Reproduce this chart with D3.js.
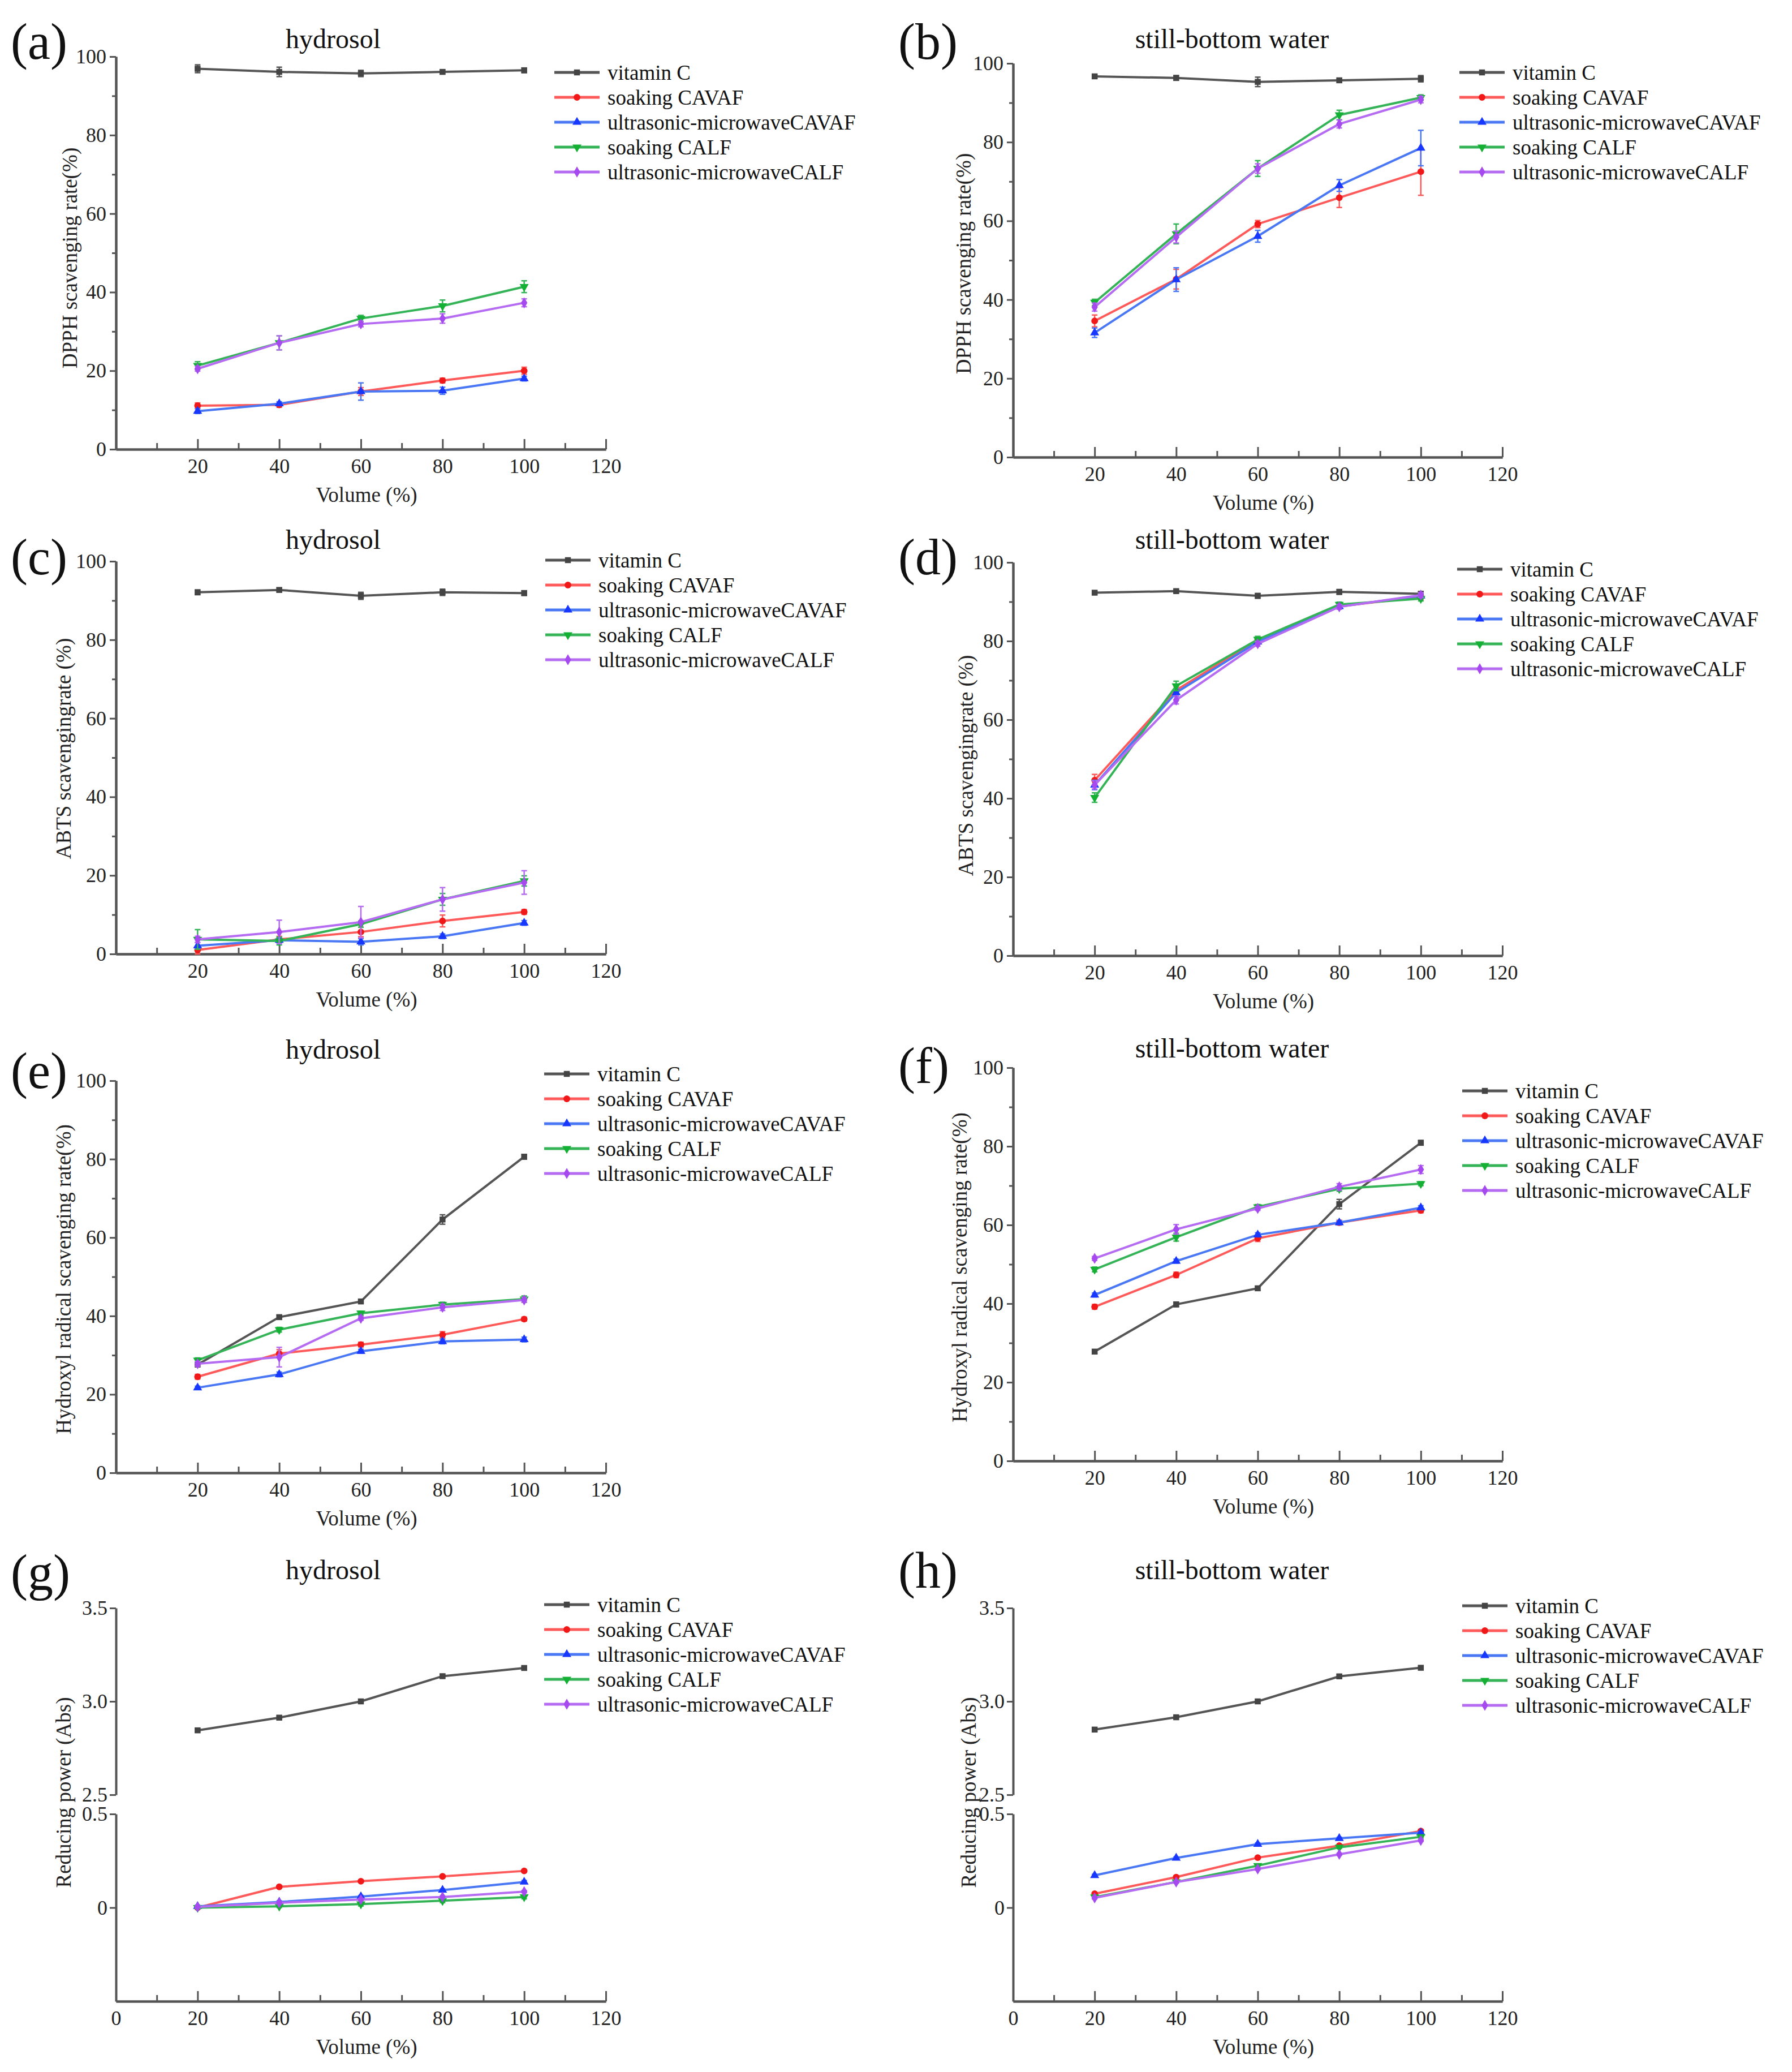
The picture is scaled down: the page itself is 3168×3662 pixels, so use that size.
<!DOCTYPE html>
<html>
<head>
<meta charset="utf-8">
<script src="https://cdnjs.cloudflare.com/ajax/libs/d3/7.8.5/d3.min.js"></script>
<style>
  body { margin: 0; background: #fff; }
  svg { display: block; }
  text { font-family: "Liberation Serif", "Times New Roman", serif; }
</style>
</head>
<body>
<svg id="fig"></svg>
<script>
// ---- data ----
const volumes = [20, 40, 60, 80, 100];
const seriesNames = ['vitamin C', 'soaking CAVAF', 'ultrasonic-microwaveCAVAF', 'soaking CALF', 'ultrasonic-microwaveCALF'];
const xTicks = [20, 40, 60, 80, 100, 120];
const xTicksWithZero = [0, 20, 40, 60, 80, 100, 120];
const xMinor = [10, 30, 50, 70, 90, 110];
const pctTicks = [0, 20, 40, 60, 80, 100];
const pctMinor = [10, 30, 50, 70, 90];
const absUpperTicks = [2.5, 3.0, 3.5];
const absLowerTicks = [0, 0.5];

// rows: vitamin C, soaking CAVAF, u-m CAVAF, soaking CALF, u-m CALF
const dpphHydrosol = [
  [96.9, 96.1, 95.7, 96.1, 96.5],
  [11.1, 11.3, 14.7, 17.5, 20.0],
  [9.7, 11.6, 14.7, 14.9, 18.0],
  [21.3, 27.1, 33.3, 36.5, 41.4],
  [20.5, 27.1, 31.9, 33.3, 37.3]
];
const dpphHydrosolErr = [
  [1.0, 1.2, 0.8, 0.5, 0.6],
  [0.7, 0.6, 1.0, 0.6, 0.9],
  [0.6, 0.5, 2.2, 0.9, 0.6],
  [1.0, 1.8, 0.8, 1.5, 1.5],
  [0.6, 1.8, 0.7, 1.2, 1.0]
];
const dpphStill = [
  [96.7, 96.3, 95.3, 95.7, 96.1],
  [34.6, 45.2, 59.2, 65.9, 72.5],
  [31.6, 45.1, 56.1, 69.0, 78.5],
  [39.3, 56.7, 73.3, 86.9, 91.3],
  [38.1, 55.9, 73.3, 84.6, 90.8]
];
const dpphStillErr = [
  [0.5, 0.6, 1.2, 0.5, 0.8],
  [1.5, 2.5, 0.9, 2.5, 6.0],
  [1.2, 3.0, 1.5, 1.5, 4.5],
  [0.8, 2.5, 2.0, 1.2, 0.7],
  [1.0, 1.5, 1.2, 1.0, 0.8]
];
const abtsHydrosol = [
  [92.1, 92.7, 91.2, 92.1, 91.9],
  [1.0, 3.7, 5.6, 8.4, 10.7],
  [2.1, 3.5, 3.1, 4.5, 7.9],
  [3.7, 3.3, 7.6, 13.9, 18.6],
  [3.7, 5.6, 8.1, 13.9, 18.2]
];
const abtsHydrosolErr = [
  [0.6, 0.5, 0.9, 0.8, 0.6],
  [1.0, 0.8, 1.2, 1.5, 0.6],
  [0.8, 0.6, 0.8, 0.6, 0.6],
  [2.5, 1.0, 0.8, 1.5, 1.3],
  [0.8, 3.0, 4.0, 3.0, 3.0]
];
const abtsStill = [
  [92.3, 92.7, 91.5, 92.5, 92.0],
  [44.6, 67.5, 80.3, 88.8, 91.3],
  [43.4, 66.9, 79.8, 88.8, 91.5],
  [40.2, 68.6, 80.4, 89.3, 90.8],
  [43.4, 65.0, 79.3, 88.7, 91.7]
];
const abtsStillErr = [
  [0.4, 0.4, 0.6, 0.6, 0.6],
  [1.5, 1.0, 0.8, 0.6, 0.8],
  [1.2, 1.0, 0.6, 0.6, 0.6],
  [1.2, 1.2, 0.8, 0.6, 0.6],
  [1.0, 1.0, 0.6, 0.6, 0.6]
];
const hydroxylHydrosol = [
  [27.6, 39.7, 43.7, 64.6, 80.6],
  [24.5, 30.4, 32.7, 35.2, 39.2],
  [21.7, 25.1, 31.0, 33.5, 34.0],
  [28.7, 36.5, 40.7, 42.9, 44.3],
  [27.8, 29.5, 39.4, 42.2, 44.1]
];
const hydroxylHydrosolErr = [
  [0.5, 0.5, 0.5, 1.2, 0.6],
  [0.6, 1.0, 0.6, 0.8, 0.5],
  [0.4, 0.6, 0.5, 0.6, 0.6],
  [0.6, 0.6, 0.5, 0.6, 0.8],
  [0.6, 2.5, 0.5, 0.8, 0.6]
];
const hydroxylStill = [
  [27.8, 39.8, 43.9, 65.3, 80.9],
  [39.2, 47.3, 56.6, 60.6, 63.7],
  [42.2, 50.8, 57.5, 60.6, 64.4],
  [48.7, 56.9, 64.6, 69.2, 70.5],
  [51.5, 58.9, 64.2, 69.7, 74.1]
];
const hydroxylStillErr = [
  [0.5, 0.6, 0.5, 1.2, 0.6],
  [0.6, 0.7, 0.8, 0.6, 0.6],
  [0.5, 0.5, 0.5, 0.5, 0.5],
  [0.6, 1.0, 0.6, 0.6, 0.5],
  [0.5, 1.2, 0.5, 0.8, 1.0]
];
const reducingHydrosol = [
  [2.845, 2.913, 3.000, 3.135, 3.179],
  [0.000, 0.111, 0.141, 0.167, 0.196],
  [0.007, 0.030, 0.059, 0.094, 0.137],
  [0.000, 0.007, 0.019, 0.037, 0.057],
  [0.004, 0.026, 0.043, 0.057, 0.085]
];
const reducingHydrosolErr = [
  [0.008, 0.008, 0.008, 0.010, 0.008],
  [0.006, 0.006, 0.006, 0.006, 0.006],
  [0.006, 0.006, 0.006, 0.006, 0.008],
  [0.006, 0.006, 0.010, 0.010, 0.010],
  [0.006, 0.006, 0.006, 0.006, 0.006]
];
const reducingStill = [
  [2.849, 2.915, 3.000, 3.134, 3.180],
  [0.074, 0.163, 0.267, 0.331, 0.409],
  [0.172, 0.265, 0.339, 0.370, 0.400],
  [0.056, 0.137, 0.224, 0.322, 0.378],
  [0.052, 0.137, 0.206, 0.285, 0.359]
];
const reducingStillErr = [
  [0.008, 0.008, 0.008, 0.008, 0.008],
  [0.006, 0.006, 0.006, 0.006, 0.008],
  [0.006, 0.006, 0.006, 0.006, 0.006],
  [0.006, 0.006, 0.008, 0.006, 0.006],
  [0.006, 0.006, 0.006, 0.006, 0.006]
];

// ---- styling ----
const W = 3168, H = 3662;
const lineColors = ['#555555', '#ff5a5a', '#4a78f5', '#34b457', '#b56cf2'];
const markColors = ['#444444', '#f01818', '#1838ff', '#14b034', '#a64af0'];
const symbols = [d3.symbolSquare, d3.symbolCircle, d3.symbolTriangle, d3.symbolTriangle, d3.symbolDiamond];
const symbolRot = [0, 0, 0, 180, 0];
const axisColor = '#555';

const svg = d3.select('#fig')
    .attr('width', W)
    .attr('height', H)
    .attr('viewBox', `0 0 ${W} ${H}`);

svg.append('rect').attr('width', W).attr('height', H).attr('fill', '#fff');

const L = {x0: 205, x1: 1071, tagX: 19, titleX: 589};
const R = {x0: 1791, x1: 2656, tagX: 1588, titleX: 2178};

const panels = [
  {col: L, tag: '(a)', title: 'hydrosol', ylab: 'DPPH scavenging rate(%)', vals: dpphHydrosol, errs: dpphHydrosolErr,
   yTop: 100, yBot: 794, tagY: 77, titleY: 70, labX: 123, labY: 456, legX: 980, legY: 128},
  {col: R, tag: '(b)', title: 'still-bottom water', ylab: 'DPPH scavenging rate(%)', vals: dpphStill, errs: dpphStillErr,
   yTop: 112, yBot: 808, tagY: 77, titleY: 70, labX: 1703, labY: 466, legX: 2580, legY: 128},
  {col: L, tag: '(c)', title: 'hydrosol', ylab: 'ABTS scavengingrate (%)', vals: abtsHydrosol, errs: abtsHydrosolErr,
   yTop: 992, yBot: 1686, tagY: 988, titleY: 955, labX: 112, labY: 1323, legX: 964, legY: 990},
  {col: R, tag: '(d)', title: 'still-bottom water', ylab: 'ABTS scavengingrate (%)', vals: abtsStill, errs: abtsStillErr,
   yTop: 994, yBot: 1689, tagY: 988, titleY: 955, labX: 1707, labY: 1353, legX: 2576, legY: 1006},
  {col: L, tag: '(e)', title: 'hydrosol', ylab: 'Hydroxyl radical scavenging rate(%)', vals: hydroxylHydrosol, errs: hydroxylHydrosolErr,
   yTop: 1910, yBot: 2603, tagY: 1896, titleY: 1856, labX: 112, labY: 2261, legX: 962, legY: 1898},
  {col: R, tag: '(f)', title: 'still-bottom water', ylab: 'Hydroxyl radical scavenging rate(%)', vals: hydroxylStill, errs: hydroxylStillErr,
   yTop: 1887, yBot: 2582, tagY: 1887, titleY: 1854, labX: 1696, labY: 2240, legX: 2585, legY: 1928},
  {col: L, tag: '(g)', title: 'hydrosol', ylab: 'Reducing power (Abs)', vals: reducingHydrosol, errs: reducingHydrosolErr, broken: true,
   yTop: 2842, yU0: 3172, yL1: 3206, yBot: 3537, tagY: 2783, titleY: 2776, labX: 112, labY: 3168, legX: 962, legY: 2836},
  {col: R, tag: '(h)', title: 'still-bottom water', ylab: 'Reducing power (Abs)', vals: reducingStill, errs: reducingStillErr, broken: true,
   yTop: 2842, yU0: 3172, yL1: 3206, yBot: 3537, tagY: 2779, titleY: 2776, labX: 1712, labY: 3168, legX: 2585, legY: 2838}
];

function styleAxis(sel) {
  sel.attr('font-family', null).attr('font-size', null);
  sel.select('.domain').attr('stroke', axisColor).attr('stroke-width', 4);
  sel.selectAll('.tick line').attr('stroke', axisColor).attr('stroke-width', 3);
  sel.selectAll('.tick text').attr('fill', '#222').style('font-size', '36px');
}

function marker(sel, i, size) {
  sel.append('path')
      .attr('d', d3.symbol().type(symbols[i]).size(size)())
      .attr('fill', markColors[i])
      .attr('transform', function () {
        return (d3.select(this).attr('transform') || '') + ` rotate(${symbolRot[i]})`;
      });
}

panels.forEach(function (p) {
  const g = svg.append('g');
  const x = d3.scaleLinear().domain([0, 120]).range([p.col.x0, p.col.x1]);
  let yOf;

  if (!p.broken) {
    const y = d3.scaleLinear().domain([0, 100]).range([p.yBot, p.yTop]);
    yOf = (v) => y(v);
    g.append('g')
        .attr('transform', `translate(${p.col.x0},0)`)
        .call(d3.axisLeft(y).tickValues(pctMinor).tickSize(7).tickSizeOuter(0).tickFormat(''))
        .call(styleAxis);
    g.append('g')
        .attr('transform', `translate(${p.col.x0},0)`)
        .call(d3.axisLeft(y).tickValues(pctTicks).tickSize(11).tickSizeOuter(0).tickPadding(6).tickFormat(d3.format('d')))
        .call(styleAxis);
  } else {
    const yU = d3.scaleLinear().domain([2.5, 3.5]).range([p.yU0, p.yTop]);
    const yL = d3.scaleLinear().domain([-0.5, 0.5]).range([p.yBot, p.yL1]);
    yOf = (v) => (v >= 1.5 ? yU(v) : yL(v));
    g.append('g')
        .attr('transform', `translate(${p.col.x0},0)`)
        .call(d3.axisLeft(yU).tickValues(absUpperTicks).tickSize(11).tickSizeOuter(0).tickPadding(4).tickFormat(d3.format('.1f')))
        .call(styleAxis);
    g.append('g')
        .attr('transform', `translate(${p.col.x0},0)`)
        .call(d3.axisLeft(yL).tickValues(absLowerTicks).tickSize(11).tickSizeOuter(0).tickPadding(4)
            .tickFormat((d) => (d === 0 ? '0' : d3.format('.1f')(d))))
        .call(styleAxis);
  }

  // x axis, ticks pointing inward
  g.append('g')
      .attr('transform', `translate(0,${p.yBot})`)
      .call(d3.axisBottom(x).tickValues(xMinor).tickSize(-11).tickSizeOuter(0).tickFormat(''))
      .call(styleAxis);
  g.append('g')
      .attr('transform', `translate(0,${p.yBot})`)
      .call(d3.axisBottom(x).tickValues(p.broken ? xTicksWithZero : xTicks).tickSize(-18).tickSizeOuter(0).tickPadding(16))
      .call(styleAxis);

  // axis titles
  g.append('text')
      .attr('x', (p.col.x0 + p.col.x1) / 2 + 10)
      .attr('y', p.yBot + 93)
      .attr('text-anchor', 'middle')
      .style('font-size', '37px')
      .attr('fill', '#222')
      .text('Volume (%)');
  g.append('text')
      .attr('transform', `translate(${p.labX},${p.labY}) rotate(-90)`)
      .attr('text-anchor', 'middle')
      .attr('dy', '0.35em')
      .style('font-size', '37px')
      .attr('fill', '#222')
      .text(p.ylab);
  g.append('text')
      .attr('x', p.col.titleX)
      .attr('y', p.titleY)
      .attr('dy', '0.32em')
      .attr('text-anchor', 'middle')
      .style('font-size', '48px')
      .attr('fill', '#111')
      .text(p.title);
  g.append('text')
      .attr('x', p.col.tagX)
      .attr('y', p.tagY)
      .attr('dy', '0.3em')
      .style('font-size', '90px')
      .attr('fill', '#111')
      .text(p.tag);

  // series
  const line = d3.line()
      .x((d, i) => x(volumes[i]))
      .y((d) => yOf(d));

  p.vals.forEach(function (vals, s) {
    const sg = g.append('g');
    sg.append('path')
        .datum(vals)
        .attr('d', line)
        .attr('fill', 'none')
        .attr('stroke', lineColors[s])
        .attr('stroke-width', 4);

    const pts = vals.map((v, i) => ({v: v, e: p.errs[s][i], xv: volumes[i]}));
    const eb = sg.selectAll('.eb').data(pts).enter().append('g');
    eb.append('line')
        .attr('x1', (d) => x(d.xv)).attr('x2', (d) => x(d.xv))
        .attr('y1', (d) => yOf(d.v - d.e)).attr('y2', (d) => yOf(d.v + d.e))
        .attr('stroke', lineColors[s]).attr('stroke-width', 2.5);
    ['-', '+'].forEach(function (sign) {
      eb.append('line')
          .attr('x1', (d) => x(d.xv) - 5).attr('x2', (d) => x(d.xv) + 5)
          .attr('y1', (d) => yOf(sign === '+' ? d.v + d.e : d.v - d.e))
          .attr('y2', (d) => yOf(sign === '+' ? d.v + d.e : d.v - d.e))
          .attr('stroke', lineColors[s]).attr('stroke-width', 2.5);
    });

    sg.selectAll('.mk').data(pts).enter().append('path')
        .attr('d', d3.symbol().type(symbols[s]).size(110)())
        .attr('fill', markColors[s])
        .attr('transform', (d) => `translate(${x(d.xv)},${yOf(d.v)}) rotate(${symbolRot[s]})`);
  });

  // legend
  seriesNames.forEach(function (name, s) {
    const ly = p.legY + s * 44;
    const lg = g.append('g').attr('transform', `translate(${p.legX},${ly})`);
    lg.append('line')
        .attr('x1', 0).attr('x2', 80).attr('y1', 0).attr('y2', 0)
        .attr('stroke', lineColors[s]).attr('stroke-width', 5);
    lg.append('path')
        .attr('d', d3.symbol().type(symbols[s]).size(110)())
        .attr('fill', markColors[s])
        .attr('transform', `translate(40,0) rotate(${symbolRot[s]})`);
    lg.append('text')
        .attr('x', 94)
        .attr('dy', '0.35em')
        .style('font-size', '37px')
        .attr('fill', '#111')
        .text(name);
  });
});
</script>
</body>
</html>
